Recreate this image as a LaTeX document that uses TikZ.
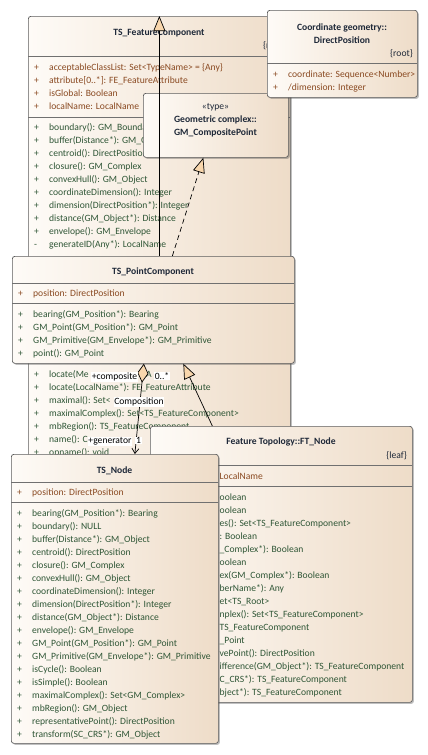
\documentclass[tikz,border=0pt]{standalone}
\usepackage{fontspec}
\setmainfont{Carlito}
\usetikzlibrary{arrows.meta,shadows,calc}
\definecolor{fillL}{HTML}{FEFBF7}
\definecolor{fillR}{HTML}{EEDCC8}
\definecolor{bordc}{HTML}{5C5C5C}
\definecolor{sepc}{HTML}{707070}
\definecolor{ttlc}{HTML}{1E2838}
\definecolor{attc}{HTML}{8A4A22}
\definecolor{opc}{HTML}{2F5636}
\definecolor{tipc}{HTML}{F8D6AC}
\begin{document}
\begin{tikzpicture}[x=1pt,y=-1pt,font=\fontsize{9.6}{11}\selectfont]
\tikzset{
 cls/.style={draw=bordc, line width=0.7pt, rounded corners=2.5pt, left color=fillL, right color=fillR,
   anchor=north west, inner sep=0pt,
   general shadow={fill=black!70, opacity=0.35, shadow xshift=1.5pt, shadow yshift=-1.5pt}},
 ttl/.style={font=\fontsize{9.6}{11}\selectfont\bfseries, text=ttlc, inner sep=0pt, anchor=base},
 stereo/.style={text=ttlc, inner sep=0pt, anchor=base},
 tag/.style={inner sep=0pt, anchor=base east, text=ttlc},
 atr/.style={inner sep=0pt, anchor=base west, text=attc},
 opr/.style={inner sep=0pt, anchor=base west, text=opc},
 sepl/.style={draw=sepc, line width=0.6pt},
 gen/.style={draw=black, line width=0.7pt, -{Triangle[width=12pt,length=15pt,fill=tipc]}},
 real/.style={draw=black, line width=0.7pt, dash pattern=on 5pt off 3.5pt, -{Triangle[width=12pt,length=15pt,fill=tipc]}},
 comp/.style={draw=black, line width=0.7pt, {Diamond[width=11pt,length=19pt,fill=tipc]}-{Straight Barb[length=5pt,width=7pt]}},
 lbl/.style={fill=white, inner sep=0.8pt, text=black, anchor=base},
}
\useasboundingbox[fill=white] (0,0) rectangle (428,755);

% ---------- TS_FeatureComponent ----------
\node[cls, minimum width=262pt, minimum height=454pt] (fc) at (28,16) {};
\node[ttl] (fct) at (159,35.5) {TS\_FeatureComponent};
\node[tag] (fctag) at (286,48.5) {\{root\}};
\draw[sepl] (28,56) -- (290,56);
\foreach \t [count=\k from 0] in {{acceptableClassList: Set<TypeName> = \{Any\}},{attribute[0..*]: FE\_FeatureAttribute},{isGlobal: Boolean},{localName: LocalName}}{
  \node[atr] (fcas\k) at (34,{70.5+13*\k}) {+};
  \node[atr] (fcat\k) at (49,{70.5+13*\k}) {\t};
}
\draw[sepl] (28,117) -- (290,117);
\foreach \s/\t [count=\k from 0] in {+/{boundary(): GM\_Boundary},+/{buffer(Distance*): GM\_Object},+/{centroid(): DirectPosition},+/{closure(): GM\_Complex},+/{convexHull(): GM\_Object},+/{coordinateDimension(): Integer},+/{dimension(DirectPosition*): Integer},+/{distance(GM\_Object*): Distance},+/{envelope(): GM\_Envelope},-/{generateID(Any*): LocalName}}{
  \node[opr] (fcos\k) at (34,{130.5+13*\k}) {\s};
  \node[opr] (fcot\k) at (49,{130.5+13*\k}) {\t};
}
\foreach \t [count=\k from 0] in {{locate(Me},{locate(LocalName*): FE\_FeatureAttribute},{maximal(): Set<},{maximalComplex(): Set<TS\_FeatureComponent>},{mbRegion(): TS\_FeatureComponent},{name(): C},{opname(): void}}{
  \node[opr] (fcps\k) at (34,{377.5+13*\k}) {+};
  \node[opr] (fcpt\k) at (49,{377.5+13*\k}) {\t};
}
\node[opr] (fcany) at (146,377.5) {A};

% ---------- GM_CompositePoint ----------
\node[cls, minimum width=145pt, minimum height=64pt] (gcp) at (143,93) {};
\node[stereo] (gcp1) at (215.5,109.5) {«type»};
\node[ttl] (gcp2) at (215.5,122.5) {Geometric complex::};
\node[ttl] (gcp3) at (215.5,135.5) {GM\_CompositePoint};

% ---------- DirectPosition ----------
\node[cls, minimum width=150pt, minimum height=87pt] (dp) at (267,10) {};
\node[ttl] (dp1) at (342,30.5) {Coordinate geometry::};
\node[ttl] (dp2) at (342,43) {DirectPosition};
\node[tag] (dp3) at (413,56.5) {\{root\}};
\draw[sepl] (267,63) -- (417,63);
\node[atr] (dpas1) at (273,77) {+};
\node[atr] (dpat1) at (288,77) {coordinate: Sequence<Number>};
\node[atr] (dpas2) at (273,90) {+};
\node[atr] (dpat2) at (288,90) {/dimension: Integer};

% generalization TS_PointComponent -> TS_FeatureComponent
\draw[gen] (fc.north |- 0,256) -- (fc.north);

% ---------- TS_PointComponent ----------
\node[cls, minimum width=282pt, minimum height=107pt] (pc) at (12,256) {};
\node[ttl] (pct) at (153,274.5) {TS\_PointComponent};
\draw[sepl] (12,283) -- (294,283);
\node[atr] (pcas) at (18,296.5) {+};
\node[atr] (pcat) at (33,296.5) {position: DirectPosition};
\draw[sepl] (12,303) -- (294,303);
\foreach \t [count=\k from 0] in {{bearing(GM\_Position*): Bearing},{GM\_Point(GM\_Position*): GM\_Point},{GM\_Primitive(GM\_Envelope*): GM\_Primitive},{point(): GM\_Point}}{
  \node[opr] (pcos\k) at (18,{317.5+13*\k}) {+};
  \node[opr] (pcot\k) at (33,{317.5+13*\k}) {\t};
}

% realization TS_PointComponent -> GM_CompositePoint
\draw[real] ($(pc.north)+(19,0)$) -- ($(gcp.south)+(-12.5,0)$);

% ---------- FT_Node ----------
\node[cls, minimum width=262pt, minimum height=276pt] (ftn) at (150,426) {};
\node[ttl] (ftt) at (281,444.5) {Feature Topology::FT\_Node};
\node[tag] (fttag) at (407,458) {\{leaf\}};
\draw[sepl] (150,465) -- (412,465);
\node[atr] (ftat) at (219.5,479.5) {LocalName};
\draw[sepl] (150,486) -- (412,486);
\foreach \t [count=\k from 0] in {{oolean},{oolean},{es(): Set<TS\_FeatureComponent>},{: Boolean},{\_Complex*): Boolean},{oolean},{ex(GM\_Complex*): Boolean},{berName*): Any},{et<TS\_Root>},{nplex(): Set<TS\_FeatureComponent>},{ TS\_FeatureComponent},{\_Point},{vePoint(): DirectPosition},{ifference(GM\_Object*): TS\_FeatureComponent},{C\_CRS*): TS\_FeatureComponent},{bject*): TS\_FeatureComponent}}{
  \node[opr] (ftot\k) at (219.5,{500.5+13*\k}) {\t};
}

% ---------- TS_Node ----------
\node[cls, minimum width=207pt, minimum height=289pt] (tsn) at (11,454) {};
\node[ttl] (tst) at (114.5,473.5) {TS\_Node};
\draw[sepl] (11,482) -- (218,482);
\node[atr] (tsas) at (17,495.5) {+};
\node[atr] (tsat) at (32,495.5) {position: DirectPosition};
\draw[sepl] (11,502) -- (218,502);
\foreach \t [count=\k from 0] in {{bearing(GM\_Position*): Bearing},{boundary(): NULL},{buffer(Distance*): GM\_Object},{centroid(): DirectPosition},{closure(): GM\_Complex},{convexHull(): GM\_Object},{coordinateDimension(): Integer},{dimension(DirectPosition*): Integer},{distance(GM\_Object*): Distance},{envelope(): GM\_Envelope},{GM\_Point(GM\_Position*): GM\_Point},{GM\_Primitive(GM\_Envelope*): GM\_Primitive},{isCycle(): Boolean},{isSimple(): Boolean},{maximalComplex(): Set<GM\_Complex>},{mbRegion(): GM\_Object},{representativePoint(): DirectPosition},{transform(SC\_CRS*): GM\_Object}}{
  \node[opr] (tsos\k) at (17,{516.5+13*\k}) {+};
  \node[opr] (tsot\k) at (32,{516.5+13*\k}) {\t};
}

% ---------- connectors ----------
\draw[comp] ($(pc.south)+(-9.5,0)$) -- ($(tsn.north)+(20,0)$);
\draw[gen] ($(ftn.north)+(-69,0)$) -- ($(pc.south)+(30,0)$);

\node[lbl] (l1) at (114.5,379.5) {+composite};
\node[lbl] (l2) at (162,379.5) {0..*};
\node[lbl] (l3) at (139,404.5) {Composition};
\node[lbl] (l4) at (110,443.5) {+generator};
\node[lbl] (l5) at (138.5,443.5) {1};
\end{tikzpicture}
\end{document}
